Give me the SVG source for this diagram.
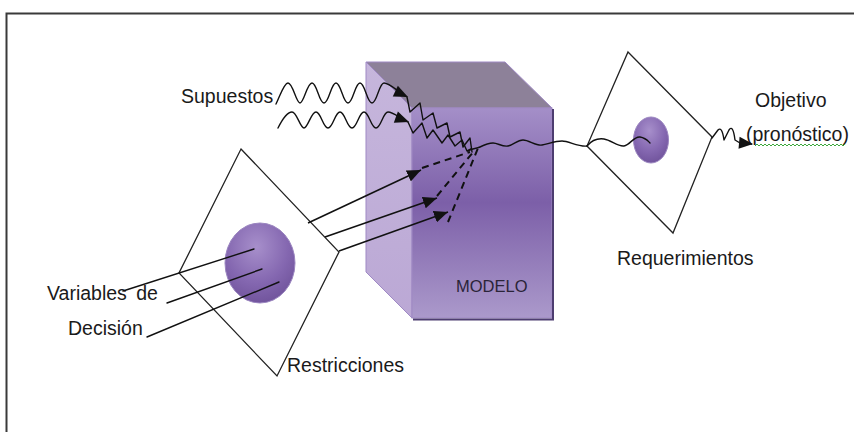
<svg xmlns="http://www.w3.org/2000/svg" width="854" height="432" viewBox="0 0 854 432">
  <style>
    .lbl { font-family: "Liberation Sans", Arial, sans-serif; font-size: 19.5px; fill: #1a1a1a; }
    .mod { font-family: "Liberation Sans", Arial, sans-serif; font-size: 16.5px; fill: #2a2438; }
    .ln { fill: none; stroke: #111; stroke-width: 1.4; stroke-linejoin: round; stroke-linecap: round; }
    .dash { fill: none; stroke: #111; stroke-width: 2; stroke-dasharray: 7 5; }
    .arr { fill: none; stroke: #111; stroke-width: 1.6; marker-end: url(#head); }
    .plane { fill: none; stroke: #222; stroke-width: 1.3; stroke-linejoin: miter; }
    .ah { fill: #111; }
  </style>
  <defs>
    <marker id="head" viewBox="0 0 14 12" refX="14" refY="6" markerWidth="14" markerHeight="12" markerUnits="userSpaceOnUse" orient="auto">
      <path d="M0,0 L14,6 L0,12 Z" fill="#111"/>
    </marker>
    <path id="tri" d="M0,0 L-14,-6 L-14,6 Z"/>
    <linearGradient id="front" x1="0" y1="0" x2="0" y2="1">
      <stop offset="0" stop-color="#a48fc8"/>
      <stop offset="0.45" stop-color="#7c5fa8"/>
      <stop offset="1" stop-color="#ab99cb"/>
    </linearGradient>
    <linearGradient id="side" x1="0" y1="0" x2="0" y2="1">
      <stop offset="0" stop-color="#c6b6dc"/>
      <stop offset="1" stop-color="#bba8d5"/>
    </linearGradient>
    <radialGradient id="ball" cx="0.45" cy="0.3" r="0.75">
      <stop offset="0" stop-color="#a78fcb"/>
      <stop offset="0.6" stop-color="#8467b0"/>
      <stop offset="1" stop-color="#6e5199"/>
    </radialGradient>
  </defs>

  <rect x="0" y="0" width="854" height="432" fill="#ffffff"/>

  <g id="frame">
    <path d="M6.5,432 L6.5,13.5 L854,13.5" fill="none" stroke="#3a3a3a" stroke-width="2"/>
  </g>

  <g id="modelo">
    <polygon points="366,62 505,62 552,108 412,108" fill="#8d8199" stroke="#9f89c4" stroke-width="1"/>
    <polygon points="366,62 412,108 412,318 366,272" fill="url(#side)" stroke="#9f89c4" stroke-width="1"/>
    <rect x="412" y="108" width="140" height="210" fill="url(#front)" stroke="#9f89c4" stroke-width="1"/>
    <path d="M413,319.5 L553,319.5 L553,109" fill="none" stroke="#4d3d70" stroke-width="2"/>
    <text class="mod" x="456" y="292">MODELO</text>
  </g>

  <g id="restricciones">
    <polygon class="plane" points="241,149 339,252 277,376 179,273"/>
    <ellipse cx="260" cy="263" rx="35" ry="40" fill="url(#ball)" stroke="#9b86c0" stroke-width="1"/>
    <text class="lbl" x="287" y="372">Restricciones</text>
  </g>

  <g id="requerimientos">
    <polygon class="plane" points="628,52 712,137 673,233 587,146"/>
    <ellipse cx="651" cy="140" rx="17.5" ry="23" fill="url(#ball)" stroke="#9b86c0" stroke-width="1"/>
    <text class="lbl" x="617" y="265">Requerimientos</text>
  </g>

  <g id="supuestos">
    <text class="lbl" x="181" y="103">Supuestos</text>
  </g>

  <g id="variables">
    <text class="lbl" x="47" y="300" word-spacing="4">Variables de</text>
    <text class="lbl" x="68" y="335">Decisión</text>
  </g>

  <g id="objetivo">
    <text class="lbl" x="755" y="107">Objetivo</text>
    <text class="lbl" x="746" y="141">(pronóstico)</text>
    <path d="M755,146 l2,-2 l2,2 l2,-2 l2,2 l2,-2 l2,2 l2,-2 l2,2 l2,-2 l2,2 l2,-2 l2,2 l2,-2 l2,2 l2,-2 l2,2 l2,-2 l2,2 l2,-2 l2,2 l2,-2 l2,2 l2,-2 l2,2 l2,-2 l2,2 l2,-2 l2,2 l2,-2 l2,2 l2,-2 l2,2 l2,-2 l2,2 l2,-2 l2,2 l2,-2 l2,2 l2,-2 l2,2 l2,-2 l2,2 l2,-2 l2,2 l2,-2" fill="none" stroke="#3aa83a" stroke-width="1"/>
  </g>

  <g id="connectors">
    <!-- decision variable lines -->
    <line class="ln" x1="254" y1="249" x2="123" y2="291"/>
    <line class="ln" x1="262" y1="269" x2="167" y2="303"/>
    <line class="ln" x1="279" y1="282" x2="147" y2="337"/>
    <!-- arrows into model -->
    <line class="arr" x1="308" y1="223" x2="421" y2="170"/>
    <line class="arr" x1="325" y1="237" x2="437" y2="198"/>
    <line class="arr" x1="339" y1="251" x2="448" y2="212"/>
    <!-- dashed lines inside model -->
    <line class="dash" x1="422" y1="168" x2="470" y2="152"/>
    <line class="dash" x1="437" y1="196" x2="474" y2="151"/>
    <line class="dash" x1="448" y1="222" x2="478" y2="148"/>
    <!-- supuestos waves -->
    <path class="ln" d="M276,104 C280,96 284,83 288,83 C293,83 296,103 300,103 S307,83 312,83 S319,103 324,103 S331,83 336,83 S343,103 348,103 S355,83 360,83 S367,103 372,103 S379,83 384,83 C390,83 398,92 407,97 L410,112 L420,103 L423,120 L433,113 L437,128 L447,123 L450,137 L460,132 L463,147 L470,138 L472,152"/>
    <path class="ln" d="M278,128 C282,120 287,112 292,112 C297,112 300,128 304,128 S311,112 316,112 S323,128 328,128 S335,112 340,112 S347,128 352,128 S359,112 364,112 S371,128 376,128 S383,112 388,112 C394,112 400,119 408,122 L413,133 L422,123 L427,138 L433,130 L442,143 L448,135 L455,146 L462,140 L467,151 L471,149"/>
    <use href="#tri" class="ah" transform="translate(408,97) rotate(25)"/>
    <use href="#tri" class="ah" transform="translate(409,122) rotate(20)"/>
    <!-- output wave -->
    <path class="ln" d="M468,151 C472,148 476,149 480,147 C484,145 488,143 493,143 S502,147 508,146 S517,140 523,140 S536,146 542,145 S555,141 562,141 S578,147 587,146"/>
    <path class="ln" d="M587,146 C592,140 597,138 604,139 S618,147 624,146 S634,136 640,137 S648,141 650,143"/>
    <path class="ln" d="M712,138 L718,130 Q722,126 724,140 L729,130 Q733,124 735,140 L740,143"/>
    <use href="#tri" class="ah" transform="translate(753,144) rotate(5)"/>
  </g>
</svg>
